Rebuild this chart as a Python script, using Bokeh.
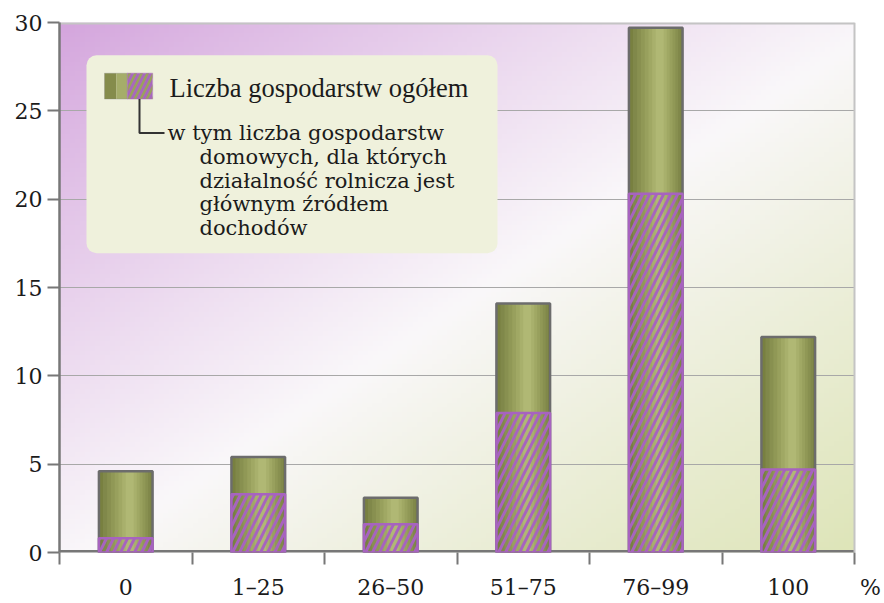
import numpy as np
from bokeh.plotting import figure
from bokeh.models import FixedTicker, Label, BoxAnnotation, Range1d, Span
from bokeh.embed import file_html
from bokeh.resources import INLINE

# ---------------- data ----------------
categories = ["0", "1–25", "26–50", "51–75", "76–99", "100"]
total_farms = [4.6, 5.4, 3.1, 14.1, 29.7, 12.2]
main_income_farms = [0.8, 3.3, 1.6, 7.9, 20.3, 4.7]
y_ticks = [0, 5, 10, 15, 20, 25, 30]
unit_label = "%"
legend_total = "Liczba gospodarstw ogółem"
legend_sub_first = "w tym liczba gospodarstw"
legend_sub_rest = ["domowych, dla których", "działalność rolnicza jest",
                   "głównym źródłem", "dochodów"]

# ---------------- layout ----------------
W, H = 883, 602
FONT_TIMES = "'Liberation Serif', 'Times New Roman', serif"
FONT = "DejaVu Serif"
AXIS_COL = "#777777"
TEXT_COL = "#1b1b1b"
n = len(categories)
y_max = 30

FX0, FX6, FY0, FY1 = 59.0, 854.0, 555.0, 22.0
OFF = 0
x_end = n + (W + OFF - FX6) / ((FX6 - FX0) / n)

p = figure(width=W, height=H, output_backend="svg", toolbar_location=None,
           x_range=Range1d(0, x_end), y_range=Range1d(0, y_max),
           min_border_left=int(FX0 - OFF), min_border_right=0,
           min_border_top=int(FY1 - OFF), min_border_bottom=int(H + OFF - FY0))
p.background_fill_color = "white"
p.border_fill_color = "white"
p.outline_line_color = None


def dx(px):
    return (px - FX0) / (FX6 - FX0) * n


def dy(py):
    return (FY0 - py) / (FY0 - FY1) * y_max


# ---------------- background gradient ----------------
nx, ny = 160, 110
u = np.linspace(0, 1, nx)[None, :]
v = np.linspace(0, 1, ny)[:, None]
d = (u + (1 - v)) / 2.0
purple = np.array([212, 165, 221], dtype=float)
white = np.array([250, 248, 250], dtype=float)
olive = np.array([222, 229, 185], dtype=float)
rgb = np.zeros((ny, nx, 3))
t1 = np.clip(d / 0.52, 0, 1) ** 0.9
t2 = np.clip((d - 0.52) / 0.48, 0, 1) ** 0.9
for k in range(3):
    c1 = purple[k] + (white[k] - purple[k]) * t1
    c2 = white[k] + (olive[k] - white[k]) * t2
    rgb[..., k] = np.where(d < 0.52, c1, c2)
img = np.empty((ny, nx), dtype=np.uint32)
view = img.view(dtype=np.uint8).reshape((ny, nx, 4))
view[..., 0] = rgb[..., 0].astype(np.uint8)
view[..., 1] = rgb[..., 1].astype(np.uint8)
view[..., 2] = rgb[..., 2].astype(np.uint8)
view[..., 3] = 255
p.image_rgba(image=[img], x=0, y=0, dw=n, dh=y_max, level="image")

# ---------------- grid & axes ----------------
p.xgrid.grid_line_color = None
p.ygrid.ticker = FixedTicker(ticks=y_ticks[1:-1])
p.ygrid.grid_line_color = "#a8a8a8"
p.ygrid.grid_line_width = 1

# white strip right of the plotting area (holds the "%" label)
p.add_layout(BoxAnnotation(left=n, fill_color="white", fill_alpha=1,
                           line_color=None, level="underlay"))

xs = [i + 0.5 for i in range(n)]
unit_pos = n + 16 / ((FX6 - FX0) / n)
xax = p.xaxis[0]
xax.ticker = FixedTicker(ticks=xs + [unit_pos], minor_ticks=list(range(n + 1)))
overrides = {x: c for x, c in zip(xs, categories)}
overrides[unit_pos] = unit_label
xax.major_label_overrides = overrides
xax.major_tick_out = 0
xax.major_tick_in = 0
xax.minor_tick_out = 12
xax.minor_tick_in = 0
xax.minor_tick_line_color = AXIS_COL
xax.minor_tick_line_width = 2
xax.axis_line_color = None
xax.major_label_standoff = 10
xax.major_label_text_font = FONT
xax.major_label_text_font_size = "22px"
xax.major_label_text_color = TEXT_COL

yax = p.yaxis[0]
yax.ticker = FixedTicker(ticks=y_ticks)
yax.major_tick_out = 12
yax.major_tick_in = 0
yax.minor_tick_line_color = None
yax.major_tick_line_color = AXIS_COL
yax.major_tick_line_width = 2
yax.axis_line_color = AXIS_COL
yax.axis_line_width = 2.5
yax.major_label_standoff = 5
yax.major_label_text_font = FONT
yax.major_label_text_font_size = "22px"
yax.major_label_text_color = TEXT_COL

# borders of the plotting area (half of each line is clipped by the frame)
p.line(x=[0, n], y=[0, 0], line_color=AXIS_COL, line_width=5)
p.line(x=[0, n], y=[y_max, y_max], line_color="#c4c4c4", line_width=4)
p.add_layout(Span(location=n, dimension="height", line_color="#c4c4c4",
                  line_width=2))

# ---------------- bars ----------------
BAR_W = 0.405
shade_layers = [(BAR_W, 0.0, "#788040"), (0.36, 0.008, "#80884a"),
                (0.31, 0.014, "#889050"), (0.26, 0.018, "#909856"),
                (0.21, 0.022, "#98a05d"), (0.16, 0.025, "#a0a864"),
                (0.11, 0.028, "#a8b06c"), (0.06, 0.03, "#b0b874")]
for w, off, col in shade_layers:
    p.vbar(x=[x + off for x in xs], width=w, top=total_farms, bottom=0,
           fill_color=col, line_color=None)
p.vbar(x=xs, width=BAR_W, top=total_farms, bottom=0, fill_color=None,
       line_color="#6c6c6c", line_width=2.5)
p.vbar(x=xs, width=BAR_W, top=main_income_farms, bottom=0, fill_color=None,
       fill_alpha=0, hatch_pattern="/", hatch_color="#a763bf",
       hatch_weight=3, hatch_scale=14, line_color="#a763bf", line_width=2.5)

# ---------------- legend ----------------
p.add_layout(BoxAnnotation(left=dx(86), right=dx(497), top=dy(55), bottom=dy(254),
                           fill_color="#eff1dc", fill_alpha=1, line_color=None,
                           border_radius=10))
p.add_layout(BoxAnnotation(left=dx(104), right=dx(116), top=dy(73), bottom=dy(99),
                           fill_color="#858c4c", fill_alpha=1, line_color=None))
p.add_layout(BoxAnnotation(left=dx(116), right=dx(127), top=dy(73), bottom=dy(99),
                           fill_color="#a5ad6a", fill_alpha=1, line_color=None))
p.add_layout(BoxAnnotation(left=dx(104), right=dx(127), top=dy(73), bottom=dy(99),
                           fill_alpha=0, line_color="#808080", line_width=1))
p.add_layout(BoxAnnotation(left=dx(127), right=dx(152), top=dy(73), bottom=dy(99),
                           fill_color="#a868bd", fill_alpha=1,
                           hatch_pattern="/", hatch_color="#9aa25c",
                           hatch_weight=2.5, hatch_scale=12,
                           line_color="#a868bd", line_width=1.5))
p.line(x=[dx(139), dx(139), dx(164)], y=[dy(99), dy(133), dy(133)],
       line_color="#333333", line_width=2, level="overlay")

p.add_layout(Label(x=dx(169), y=dy(88), text=legend_total, text_font=FONT_TIMES,
                   text_font_size="26.5px", text_color=TEXT_COL,
                   text_baseline="middle"))
p.add_layout(Label(x=dx(167), y=dy(133), text=legend_sub_first,
                   text_font=FONT, text_font_size="21px",
                   text_color=TEXT_COL, text_baseline="middle"))
for i, line in enumerate(legend_sub_rest):
    p.add_layout(Label(x=dx(199), y=dy(157 + 24 * i), text=line,
                       text_font=FONT, text_font_size="21px",
                       text_color=TEXT_COL, text_baseline="middle"))

open("out.html", "w").write(file_html(p, INLINE))
